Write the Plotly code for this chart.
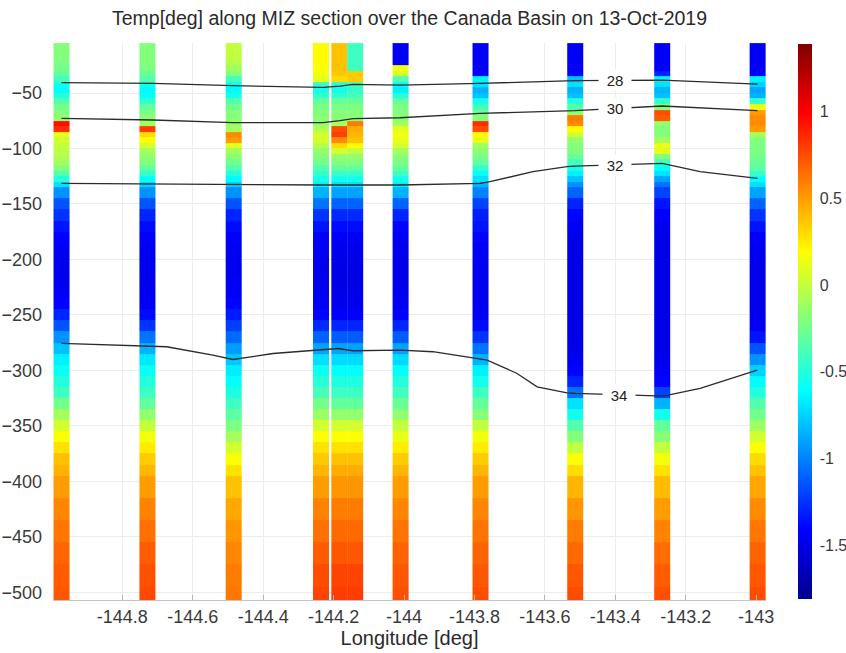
import plotly.graph_objects as go

# ---- Section data -------------------------------------------------------
# Station longitudes (deg) of the CTD profiles along the MIZ section
station_lon = [-144.973, -144.729, -144.484, -144.236, -144.184, -144.139,
               -144.010, -143.783, -143.514, -143.267, -142.996]
column_width = 0.045  # deg, width of each profile column

# Depth bin edges (m, negative downward)
depth_edges = [-5, -10, -15, -20, -25, -30, -35, -40, -45, -50, -55, -60, -65,
               -70, -75, -80, -85, -90, -95, -100, -105, -110, -115, -120,
               -125, -130, -135,
               -145, -155, -165, -175, -185, -195, -205, -215, -225, -235,
               -245, -255, -265, -275, -285, -295, -305, -315, -325, -335,
               -345, -355, -365, -375, -385, -395,
               -415, -435, -455, -475, -495, -507]

# Temperature (deg C) per depth bin for each station
temp_st1 = [-0.20, -0.20, -0.20, -0.22, -0.25, -0.30, -0.40, -0.55, -0.60, -0.50,
            -0.35, -0.25, -0.20, -0.15, 0.95, 0.85, 0.10, 0.05, 0.00, -0.02,
            -0.05, -0.10, -0.20, -0.35, -0.50, -0.70,
            -0.95, -1.15, -1.25, -1.35, -1.42, -1.45, -1.48, -1.48, -1.47, -1.45,
            -1.40, -1.30, -1.15, -0.95, -0.80, -0.65, -0.58, -0.50, -0.42, -0.25,
            -0.10, 0.05, 0.18, 0.28, 0.38, 0.43,
            0.50, 0.57, 0.62, 0.67, 0.70, 0.72]
temp_st2 = [-0.20, -0.20, -0.20, -0.20, -0.22, -0.28, -0.35, -0.55, -0.62, -0.60,
            -0.45, -0.30, -0.22, -0.18, -0.10, 0.80, 0.30, 0.18, 0.05, -0.10,
            -0.15, -0.20, -0.30, -0.45, -0.60, -0.75,
            -0.95, -1.15, -1.30, -1.38, -1.42, -1.45, -1.46, -1.47, -1.47, -1.46,
            -1.43, -1.38, -1.25, -1.05, -0.85, -0.68, -0.58, -0.50, -0.42, -0.30,
            -0.15, 0.00, 0.15, 0.25, 0.35, 0.42,
            0.50, 0.58, 0.64, 0.70, 0.74, 0.76]
temp_st3 = [0.00, 0.00, -0.02, -0.05, -0.10, -0.20, -0.40, -0.58, -0.62, -0.55,
            -0.35, -0.25, -0.20, -0.18, -0.15, -0.10, 0.55, 0.50, 0.10, -0.10,
            -0.18, -0.25, -0.35, -0.50, -0.62, -0.75,
            -0.95, -1.15, -1.30, -1.38, -1.42, -1.45, -1.46, -1.46, -1.45, -1.43,
            -1.40, -1.33, -1.22, -1.08, -0.92, -0.78, -0.66, -0.60, -0.52, -0.42,
            -0.32, -0.22, -0.10, 0.05, 0.18, 0.28,
            0.38, 0.46, 0.52, 0.57, 0.60, 0.62]
temp_st4 = [0.20, 0.20, 0.20, 0.20, 0.18, 0.15, 0.10, -0.45, -0.55, -0.45,
            -0.30, -0.22, -0.20, -0.18, -0.15, -0.05, 0.05, 0.05, -0.05, -0.15,
            -0.20, -0.25, -0.35, -0.45, -0.55, -0.65,
            -0.85, -1.05, -1.25, -1.35, -1.42, -1.45, -1.47, -1.48, -1.48, -1.47,
            -1.45, -1.40, -1.28, -1.10, -0.90, -0.70, -0.58, -0.48, -0.38, -0.25,
            -0.12, 0.05, 0.18, 0.28, 0.36, 0.42,
            0.50, 0.58, 0.64, 0.70, 0.75, 0.78]
temp_st5 = [0.38, 0.38, 0.38, 0.38, 0.38, 0.36, 0.30, -0.50, -0.55, -0.45,
            -0.30, -0.22, -0.20, -0.18, -0.10, 0.75, 0.80, 0.55, 0.30, 0.05,
            -0.15, -0.20, -0.30, -0.45, -0.55, -0.70,
            -0.90, -1.10, -1.28, -1.38, -1.44, -1.47, -1.49, -1.50, -1.50, -1.49,
            -1.47, -1.42, -1.30, -1.12, -0.90, -0.72, -0.60, -0.52, -0.42, -0.30,
            -0.15, 0.05, 0.18, 0.28, 0.38, 0.45,
            0.52, 0.60, 0.66, 0.72, 0.78, 0.80]
temp_st6 = [-0.42, -0.42, -0.42, -0.42, -0.42, 0.35, 0.35, -0.40, -0.45, -0.38,
            -0.28, -0.22, -0.20, -0.18, 0.60, 0.45, 0.42, 0.38, 0.20, 0.00,
            -0.15, -0.20, -0.30, -0.45, -0.55, -0.70,
            -0.90, -1.10, -1.28, -1.38, -1.44, -1.47, -1.49, -1.50, -1.50, -1.49,
            -1.47, -1.42, -1.30, -1.12, -0.90, -0.72, -0.60, -0.52, -0.42, -0.30,
            -0.15, 0.05, 0.18, 0.28, 0.38, 0.45,
            0.52, 0.60, 0.66, 0.72, 0.78, 0.80]
temp_st7 = [-1.45, -1.45, -1.45, -1.42, 0.15, 0.05, -0.35, -0.60, -0.65, -0.50,
            -0.30, -0.22, -0.20, -0.18, -0.10, 0.10, 0.15, 0.12, 0.05, -0.10,
            -0.18, -0.22, -0.30, -0.42, -0.55, -0.65,
            -0.85, -1.10, -1.30, -1.40, -1.45, -1.47, -1.48, -1.48, -1.48, -1.47,
            -1.45, -1.40, -1.30, -1.12, -0.90, -0.72, -0.60, -0.50, -0.40, -0.28,
            -0.15, 0.00, 0.12, 0.25, 0.35, 0.42,
            0.50, 0.57, 0.63, 0.68, 0.72, 0.74]
temp_st8 = [-1.45, -1.45, -1.45, -1.45, -1.45, -1.40, -0.65, -0.70, -0.85, -0.80,
            -0.55, -0.40, -0.25, -0.20, 0.85, 0.75, 0.20, 0.12, -0.10, -0.18,
            -0.22, -0.30, -0.45, -0.60, -0.70, -0.85,
            -1.00, -1.20, -1.32, -1.35, -1.40, -1.43, -1.45, -1.47, -1.47, -1.47,
            -1.46, -1.44, -1.38, -1.25, -1.05, -0.85, -0.65, -0.55, -0.42, -0.30,
            -0.18, 0.00, 0.15, 0.25, 0.35, 0.42,
            0.50, 0.57, 0.63, 0.68, 0.72, 0.75]
temp_st9 = [-1.45, -1.45, -1.45, -1.45, -1.45, -1.40, -0.80, -0.70, -0.85, -0.80,
            -0.50, -0.35, -0.15, 0.60, 0.55, 0.20, 0.05, -0.15, -0.20, -0.22,
            -0.28, -0.40, -0.55, -0.65, -0.80, -0.95,
            -1.10, -1.30, -1.40, -1.45, -1.48, -1.50, -1.50, -1.50, -1.50, -1.50,
            -1.50, -1.50, -1.50, -1.50, -1.48, -1.45, -1.40, -1.30, -1.05, -0.70,
            -0.55, -0.35, -0.20, 0.00, 0.18, 0.30,
            0.42, 0.52, 0.60, 0.66, 0.72, 0.75]
temp_st10 = [-1.45, -1.45, -1.45, -1.45, -1.45, -1.30, -0.65, -0.70, -0.85, -0.80,
             -0.45, -0.20, 0.75, 0.70, -0.15, -0.20, -0.20, -0.10, 0.12, 0.10,
             -0.20, -0.40, -0.60, -0.70, -0.90, -1.05,
             -1.20, -1.35, -1.42, -1.47, -1.50, -1.50, -1.50, -1.50, -1.50, -1.50,
             -1.50, -1.50, -1.50, -1.50, -1.50, -1.48, -1.45, -1.40, -1.20, -0.85,
             -0.55, -0.30, -0.18, 0.00, 0.15, 0.28,
             0.40, 0.50, 0.58, 0.65, 0.70, 0.74]
temp_st11 = [-1.45, -1.45, -1.45, -1.45, -1.45, -1.45, -0.65, -0.75, -0.90, -0.85,
             -0.45, 0.15, 0.50, 0.55, 0.55, 0.50, -0.10, -0.20, -0.22, -0.22,
             -0.25, -0.28, -0.32, -0.45, -0.60, -0.70,
             -0.90, -1.10, -1.25, -1.35, -1.42, -1.45, -1.47, -1.48, -1.48, -1.48,
             -1.48, -1.47, -1.45, -1.35, -1.15, -0.95, -0.75, -0.62, -0.50, -0.35,
             -0.25, -0.12, 0.05, 0.18, 0.30, 0.38,
             0.47, 0.55, 0.62, 0.68, 0.72, 0.75]

station_temps = [temp_st1, temp_st2, temp_st3, temp_st4, temp_st5, temp_st6,
                 temp_st7, temp_st8, temp_st9, temp_st10, temp_st11]

# Salinity isolines (psu): longitude / depth vertices and label positions
iso_levels = ["28", "30", "32", "34"]
iso28_lon = [-144.973, -144.713, -144.486, -144.230, -144.182, -144.145,
             -144.011, -143.784, -143.514, -143.267, -142.996]
iso28_dep = [-40.6, -41.3, -43.4, -44.9, -43.7, -42.2, -42.8, -41.3, -38.8,
             -38.3, -41.9]
iso30_lon = [-144.973, -144.713, -144.486, -144.230, -144.182, -144.145,
             -144.011, -143.784, -143.514, -143.267, -142.996]
iso30_dep = [-72.8, -74.3, -76.7, -76.7, -74.9, -73.1, -72.3, -68.3, -65.9,
             -61.7, -65.9]
iso32_lon = [-144.973, -144.713, -144.486, -144.230, -144.011, -143.784,
             -143.756, -143.634, -143.537, -143.514, -143.267, -143.244,
             -143.159, -142.996]
iso32_dep = [-131.5, -132.1, -132.4, -132.9, -132.9, -131.5, -129.9, -120.9,
             -116.4, -115.8, -113.5, -114.9, -120.9, -127.0]
iso34_lon = [-144.973, -144.713, -144.674, -144.543, -144.486, -144.372,
             -144.230, -144.188, -144.145, -144.011, -143.918, -143.764,
             -143.679, -143.622, -143.537, -143.514, -143.349, -143.264,
             -143.159, -142.997]
iso34_dep = [-275.7, -278.1, -278.7, -286.3, -290.2, -284.8, -281.7, -280.3,
             -282.3, -281.7, -283.2, -290.7, -302.8, -314.8, -320.2, -320.8,
             -322.3, -323.2, -316.3, -299.8]
iso_label_lon = [-143.40, -143.40, -143.40, -143.39]
iso_label_dep = [-38.6, -63.9, -115.0, -321.8]

x_ticks = [-144.8, -144.6, -144.4, -144.2, -144.0, -143.8, -143.6, -143.4,
           -143.2, -143.0]
x_tick_text = ["-144.8", "-144.6", "-144.4", "-144.2", "-144", "-143.8",
               "-143.6", "-143.4", "-143.2", "-143"]
y_ticks = [-50, -100, -150, -200, -250, -300, -350, -400, -450, -500]
cbar_ticks = [-1.5, -1, -0.5, 0, 0.5, 1]
cbar_tick_text = ["-1.5", "-1", "-0.5", "0", "0.5", "1"]
temp_range = [-1.81, 1.39]

# ---- Figure -------------------------------------------------------------
FONT = "Liberation Sans, Arial, Helvetica, sans-serif"
TEXT = "#3a3a3a"

jet = [[0.0, "rgb(0,0,143)"], [0.125, "rgb(0,0,255)"], [0.375, "rgb(0,255,255)"],
       [0.625, "rgb(255,255,0)"], [0.875, "rgb(255,0,0)"], [1.0, "rgb(128,0,0)"]]

fig = go.Figure()

for lon, temps in zip(station_lon, station_temps):
    fig.add_trace(go.Heatmap(
        x=[lon - column_width / 2, lon + column_width / 2],
        y=depth_edges,
        z=[[t] for t in temps],
        coloraxis="coloraxis",
        hoverinfo="skip",
    ))

for lons, deps in [(iso28_lon, iso28_dep), (iso30_lon, iso30_dep),
                   (iso32_lon, iso32_dep), (iso34_lon, iso34_dep)]:
    fig.add_trace(go.Scatter(
        x=lons, y=deps, mode="lines",
        line=dict(color="#2b2b2b", width=1.3),
        hoverinfo="skip", showlegend=False,
    ))

for lvl, lx, ly in zip(iso_levels, iso_label_lon, iso_label_dep):
    fig.add_annotation(
        x=lx, y=ly, text=lvl, showarrow=False,
        font=dict(family=FONT, size=15, color="#222222"),
        bgcolor="white", width=30, height=18,
    )

fig.update_layout(
    width=846, height=653,
    margin=dict(l=53, r=80, t=43, b=53, autoexpand=False),
    paper_bgcolor="white", plot_bgcolor="white",
    showlegend=False,
    font=dict(family=FONT, color=TEXT),
    title=dict(
        text="Temp[deg] along MIZ section over the Canada Basin on 13-Oct-2019",
        x=0.5, xref="paper", xanchor="center",
        y=1 - 18 / 653, yref="container", yanchor="middle",
        font=dict(family=FONT, size=19.5, color="#2a2a2a"),
    ),
    xaxis=dict(
        range=[-144.997, -142.972],
        tickvals=x_ticks, ticktext=x_tick_text,
        tickfont=dict(size=18, color=TEXT),
        ticks="inside", ticklen=5, tickcolor="#b5b5b5",
        showline=True, linecolor="#c4c4c4", linewidth=1,
        showgrid=True, gridcolor="#ececec", gridwidth=1,
        zeroline=False, automargin=False,
        title=dict(text="Longitude [deg]", font=dict(size=20, color="#2a2a2a"),
                   standoff=5),
    ),
    yaxis=dict(
        range=[-507, -4.9],
        tickvals=y_ticks,
        tickfont=dict(size=18, color=TEXT),
        ticks="", showline=False, ticklabelstandoff=10,
        showgrid=True, gridcolor="#ececec", gridwidth=1,
        zeroline=False, automargin=False,
    ),
    coloraxis=dict(
        colorscale=jet, cmin=temp_range[0], cmax=temp_range[1],
        colorbar=dict(
            x=(798 - 53) / 713, xanchor="left", xref="paper",
            y=0.5, yanchor="middle",
            lenmode="pixels", len=555,
            thickness=14, thicknessmode="pixels",
            xpad=0, ypad=0, outlinewidth=0,
            tickvals=cbar_ticks, ticktext=cbar_tick_text,
            ticks="outside", ticklen=5, tickcolor="rgba(0,0,0,0)",
            tickfont=dict(family=FONT, size=16, color=TEXT),
        ),
    ),
)

fig.write_html("out.html")
